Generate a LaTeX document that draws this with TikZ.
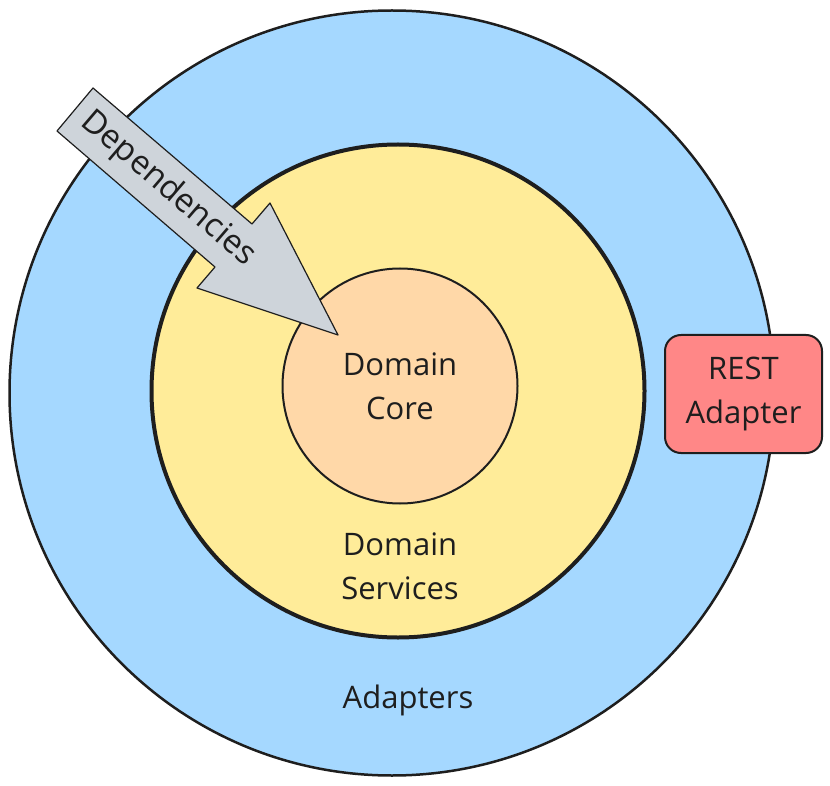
\documentclass[tikz,border=0pt]{standalone}
\usepackage{fontspec}
\setmainfont{Open Sans}
\definecolor{ink}{HTML}{1E1E1E}
\definecolor{adapterblue}{HTML}{A5D8FF}
\definecolor{serviceyellow}{HTML}{FFEC99}
\definecolor{coreorange}{HTML}{FFD8A8}
\definecolor{restred}{HTML}{FF8787}
\definecolor{arrowgray}{HTML}{CED4DA}
\begin{document}
\begin{tikzpicture}[x=1pt,y=-1pt,line join=round,line cap=round,font=\fontsize{31}{44}\selectfont,
	ring/.style={circle,draw=ink,inner sep=0pt},
	lbl/.style={align=center,text=ink,inner sep=0pt}]
			\useasboundingbox (0,0) rectangle (830,786);
			%Outer ring
			\node[ring,fill=adapterblue,line width=2.5pt,minimum size=765pt] (adapters) at (392,393) {};
			%Middle ring
			\node[ring,fill=serviceyellow,line width=4pt,minimum size=493pt] (services) at (398,391) {};
			%Core
			\node[ring,fill=coreorange,line width=2pt,minimum size=235pt,align=center,text=ink] (core) at (400,386) {Domain\\Core};
			%Labels
			\node[lbl] (serviceslbl) at (400,566) {Domain\\Services};
			\node[lbl] (adapterslbl) at (408,700) {Adapters};
			%REST box
			\node[draw=ink,line width=2pt,fill=restred,rounded corners=16pt,minimum width=157pt,minimum height=118pt,align=center,text=ink] (rest) at (743.5,394) {REST\\Adapter};
			%Arrow
			\path (93,88) coordinate (A)
			(252,224) coordinate (B)
			(270,203) coordinate (C)
			(338,335) coordinate (D)
			(197,288) coordinate (E)
			(215,267) coordinate (F)
			(57,131) coordinate (G);
			\draw[fill=arrowgray,draw=ink,line width=1.2pt] (A)--(B)--(C)--(D)--(E)--(F)--(G)--cycle;
			\node[lbl,rotate=-40.6,font=\fontsize{33}{40}\selectfont] (deplbl) at (168,189) {Dependencies};
		\end{tikzpicture}
\end{document}
